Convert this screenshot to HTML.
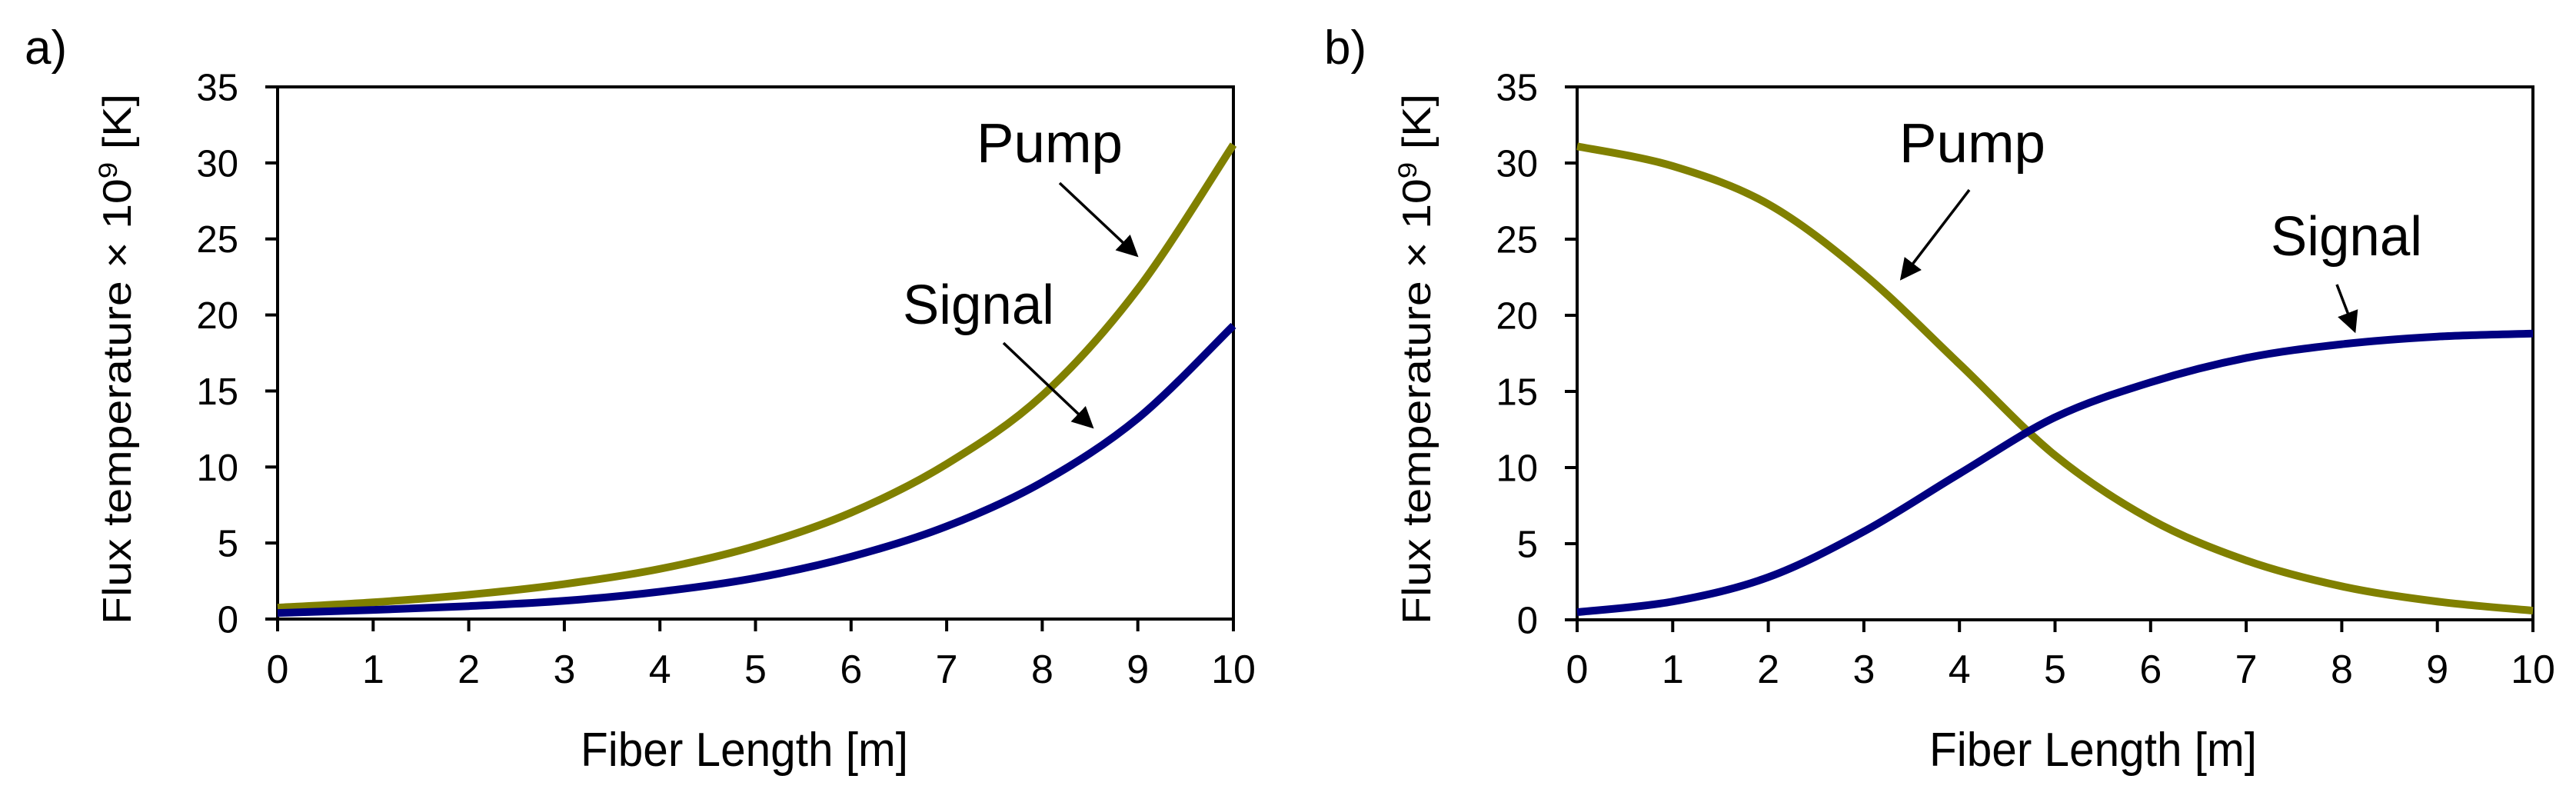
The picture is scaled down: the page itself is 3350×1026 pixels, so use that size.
<!DOCTYPE html>
<html><head><meta charset="utf-8"><style>
html,body{margin:0;padding:0;background:#fff;}
svg{display:block;}
text{font-family:"Liberation Sans",Arial,sans-serif;fill:#000;}
</style></head><body>
<svg id="fig" width="3350" height="1026" viewBox="0 0 3350 1026" xmlns="http://www.w3.org/2000/svg">
<defs><marker id="ah" markerWidth="8" markerHeight="8" refX="7" refY="4" orient="auto" markerUnits="strokeWidth"><path d="M0,0 L8,4 L0,8 Z" fill="#000"/></marker></defs>
<g id="pa"></g>
<g id="pb"></g>
</svg>
<script>
const xTicks = [0,1,2,3,4,5,6,7,8,9,10];
const yTicks = [0,5,10,15,20,25,30,35];
const xs = [0,1,2,3,4,5,6,7,8,9,10];
const pumpA = [0.75,1.1,1.6,2.3,3.3,4.8,7.0,10.2,14.7,21.7,31.2];
const signalA = [0.4,0.6,0.85,1.2,1.8,2.7,4.1,6.1,9.0,13.2,19.3];
const pumpB = [31.1,29.8,27.3,22.7,16.8,10.8,6.6,3.9,2.2,1.2,0.6];
const signalB = [0.5,1.2,2.8,5.8,9.6,13.3,15.6,17.2,18.1,18.6,18.8];
const NS = "http://www.w3.org/2000/svg";
function mk(p, tag, attrs, txt){const e=document.createElementNS(NS,tag);for(const k in attrs)e.setAttribute(k,attrs[k]);if(txt!==undefined)e.textContent=txt;p.appendChild(e);return e;}
function path(pts){let d="M"+pts[0][0]+","+pts[0][1];for(let i=0;i<pts.length-1;i++){const p0=pts[Math.max(0,i-1)],p1=pts[i],p2=pts[i+1],p3=pts[Math.min(pts.length-1,i+2)];const c1=[p1[0]+(p2[0]-p0[0])/6,p1[1]+(p2[1]-p0[1])/6],c2=[p2[0]-(p3[0]-p1[0])/6,p2[1]-(p3[1]-p1[1])/6];d+=" C"+c1[0]+","+c1[1]+" "+c2[0]+","+c2[1]+" "+p2[0]+","+p2[1];}return d;}
function panel(g, L, R, T, B, label, pump, sig, ann){
  const sx=v=>L+(v-0)/(10-0)*(R-L), sy=v=>B-(v-0)/(35-0)*(B-T);
  const lab=mk(g,"text",{x:L-329,y:83,"font-size":62},label);
  
  
  const yt=mk(g,"text",{transform:`translate(${L-191},467) rotate(-90)`,"text-anchor":"middle","font-size":52,textLength:690,lengthAdjust:"spacingAndGlyphs"});
  
  
  yt.innerHTML='Flux temperature × 10<tspan dy="-18" font-size="34">9</tspan><tspan dy="18"> [K]</tspan>';
  const xt=mk(g,"text",{x:ann.xtx,y:996,"text-anchor":"middle","font-size":62,textLength:426,lengthAdjust:"spacingAndGlyphs"},"Fiber Length [m]");
  
  
  yTicks.forEach(v=>{const t=mk(g,"line",{x1:L-16,x2:L,y1:sy(v),y2:sy(v),stroke:"#000","stroke-width":4});
    
    
    const tl=mk(g,"text",{x:L-51,y:sy(v)+17.5,"text-anchor":"end","font-size":49},String(v));
    
    });
  xTicks.forEach(v=>{const t=mk(g,"line",{x1:sx(v),x2:sx(v),y1:B,y2:B+16,stroke:"#000","stroke-width":4});
    
    
    const tl=mk(g,"text",{x:sx(v),y:888,"text-anchor":"middle","font-size":52},String(v));
    
    });
  const fr=mk(g,"rect",{x:L,y:T,width:R-L,height:B-T,fill:"none",stroke:"#000","stroke-width":4});
  
  
  const pp=mk(g,"path",{d:path(xs.map((x,i)=>[sx(x),sy(pump[i])])),fill:"none",stroke:"#808000","stroke-width":10,"stroke-linejoin":"round"});
  
  
  const sp=mk(g,"path",{d:path(xs.map((x,i)=>[sx(x),sy(sig[i])])),fill:"none",stroke:"#000080","stroke-width":10,"stroke-linejoin":"round"});
  
  
  const pl=mk(g,"text",{x:ann.pump[0],y:ann.pump[1],"font-size":72,textLength:190,lengthAdjust:"spacingAndGlyphs"},"Pump");
  
  
  const sl=mk(g,"text",{x:ann.sig[0],y:ann.sig[1],"font-size":72,textLength:197,lengthAdjust:"spacingAndGlyphs"},"Signal");
  
  
  const pa=mk(g,"line",{x1:ann.pa[0],y1:ann.pa[1],x2:ann.pa[2],y2:ann.pa[3],stroke:"#000","stroke-width":3.5,"marker-end":"url(#ah)"});
  
  
  const sa=mk(g,"line",{x1:ann.sa[0],y1:ann.sa[1],x2:ann.sa[2],y2:ann.sa[3],stroke:"#000","stroke-width":3.5,"marker-end":"url(#ah)"});
  
  
}
panel(document.getElementById("pa"),361,1604,113,805,"a)",pumpA,signalA,
  {xtx:968,pump:[1270,211],sig:[1174,421],pa:[1378,238,1478,332],sa:[1305,446,1420,555]});
panel(document.getElementById("pb"),2051,3294,113,806,"b)",pumpB,signalB,
  {xtx:2722,pump:[2470,211],sig:[2953,332],pa:[2561,247,2473,362],sa:[3039,370,3062,430]});
</script>
</body></html>
